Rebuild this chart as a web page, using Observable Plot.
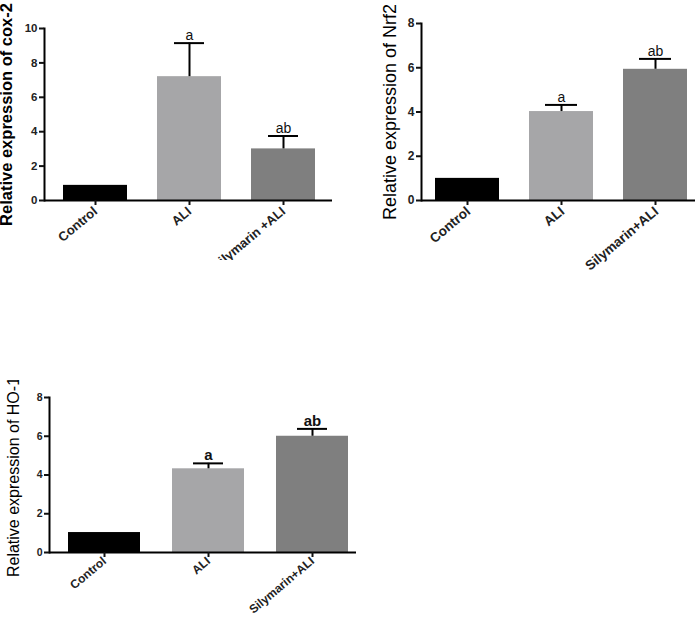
<!DOCTYPE html>
<html>
<head>
<meta charset="utf-8">
<script src="https://cdn.jsdelivr.net/npm/d3@7"></script>
<script src="https://cdn.jsdelivr.net/npm/@observablehq/plot@0.6"></script>
<style>
  body { margin: 0; background: #fff; }
  #wrap { position: relative; width: 695px; height: 617px; background: #fff; overflow: hidden; }
  .panel { position: absolute; overflow: hidden; }
  .panel svg { display: block; }
</style>
</head>
<body>
<div id="wrap">
  <div class="panel" id="p1" style="left:0px;top:0px;width:340px;height:260px"></div>
  <div class="panel" id="p2" style="left:360px;top:0px;width:335px;height:290px"></div>
  <div class="panel" id="p3" style="left:0px;top:380px;width:360px;height:237px"></div>
</div>
<script>
// ---- data ----
const groups = ["Control", "ALI", "Silymarin+ALI"];
const groupLabelsCox = ["Control", "ALI", "Silymarin +ALI"];
const letters = ["", "a", "ab"];
const barColors = ["#000000", "#a6a6a8", "#7f7f7f"];

const cox2Mean = [0.88, 7.2, 3.0];
const cox2Err  = [0, 1.95, 0.75];
const nrf2Mean = [1.0, 4.02, 5.93];
const nrf2Err  = [0, 0.3, 0.47];
const ho1Mean  = [1.03, 4.32, 6.0];
const ho1Err   = [0, 0.28, 0.38];

const cox2Ticks = [0, 2, 4, 6, 8, 10];
const nrf2Ticks = [0, 2, 4, 6, 8];
const ho1Ticks  = [0, 2, 4, 6, 8];

const cox2Title = "Relative expression of cox-2";
const nrf2Title = "Relative expression of Nrf2";
const ho1Title  = "Relative expression of HO-1";

function panel(o) {
  const data = o.labels.map((g, i) => ({g, v: o.means[i], e: o.errs[i], sig: letters[i]}));
  const errData = data.filter(d => d.e > 0);
  return Plot.plot({
    width: o.width, height: o.height,
    marginLeft: o.ml, marginTop: o.mt, marginBottom: o.mb, marginRight: o.mr,
    style: {fontFamily: "'Liberation Sans', Arial, sans-serif", background: "transparent", color: "#111"},
    x: {domain: o.labels, range: o.xr, paddingInner: o.pi, paddingOuter: o.po, label: null},
    y: {domain: [0, o.yMax], label: null},
    color: {domain: o.labels, range: barColors},
    marks: [
      Plot.barY(data, {x: "g", y: "v", fill: "g"}),
      Plot.ruleX(errData, {x: "g", y1: "v", y2: d => d.v + d.e, stroke: "#000", strokeWidth: 2}),
      Plot.tickY(errData, {x: "g", y: d => d.v + d.e, stroke: "#000", strokeWidth: 2, insetLeft: o.capInset, insetRight: o.capInset}),
      Plot.text(errData, {x: "g", y: d => d.v + d.e, text: "sig", lineAnchor: "bottom", dy: -3,
        fontSize: o.sigSize, fontWeight: o.sigWeight, fill: "#111"}),
      Plot.ruleY([0], {stroke: "#000", strokeWidth: 2}),
      Plot.frame({anchor: "left", stroke: "#000", strokeWidth: 2}),
      Plot.axisY({ticks: o.ticks, tickSize: 5, tickPadding: 2, strokeWidth: 2, label: null,
        fontSize: o.tickSize, fontWeight: "bold", fill: "#222"}),
      // tick marks
      Plot.axisX({tickSize: 5, text: null, strokeWidth: 2, label: null}),
      // rotated labels
      Plot.axisX({tickSize: 0, tickPadding: o.xPad, tickRotate: -40, label: null,
        fontSize: o.xTickSize, fontWeight: "bold", fill: "#222", dx: o.xdx}),
      Plot.text([o.title], {frameAnchor: "left", rotate: -90, lineAnchor: "top", textAnchor: "middle",
        dx: -o.titleOffset, dy: o.titleDy, text: d => d, fontSize: o.titleSize, fontWeight: o.titleWeight, fill: "#000"})
    ]
  });
}

document.getElementById("p1").append(panel({
  labels: groupLabelsCox, means: cox2Mean, errs: cox2Err, yMax: 10, ticks: cox2Ticks, title: cox2Title,
  width: 340, height: 260, ml: 44, mt: 28, mb: 60, mr: 8,
  xr: [44, 335], pi: 0.316, po: 0.19, capInset: 17,
  sigSize: 14, sigWeight: "normal", tickSize: 11.5, xTickSize: 13, xPad: 9, xdx: 0,
  titleOffset: 44, titleDy: 0, titleSize: 16.5, titleWeight: 900
}));

document.getElementById("p2").append(panel({
  labels: groups, means: nrf2Mean, errs: nrf2Err, yMax: 8, ticks: nrf2Ticks, title: nrf2Title,
  width: 335, height: 290, ml: 61, mt: 23, mb: 90, mr: 0,
  xr: [61, 341.5], pi: 0.314, po: 0.149, capInset: 16,
  sigSize: 14, sigWeight: "normal", tickSize: 12, xTickSize: 13.5, xPad: 9, xdx: 1,
  titleOffset: 38, titleDy: 0, titleSize: 18, titleWeight: "normal"
}));

document.getElementById("p3").append(panel({
  labels: groups, means: ho1Mean, errs: ho1Err, yMax: 8, ticks: ho1Ticks, title: ho1Title,
  width: 360, height: 237, ml: 49, mt: 17, mb: 65, mr: 4,
  xr: [49, 367.5], pi: 0.303, po: 0.172, capInset: 21,
  sigSize: 15, sigWeight: "bold", tickSize: 10.5, xTickSize: 12, xPad: 7, xdx: 0,
  titleOffset: 42, titleDy: 2, titleSize: 16, titleWeight: "normal"
}));
</script>
</body>
</html>
